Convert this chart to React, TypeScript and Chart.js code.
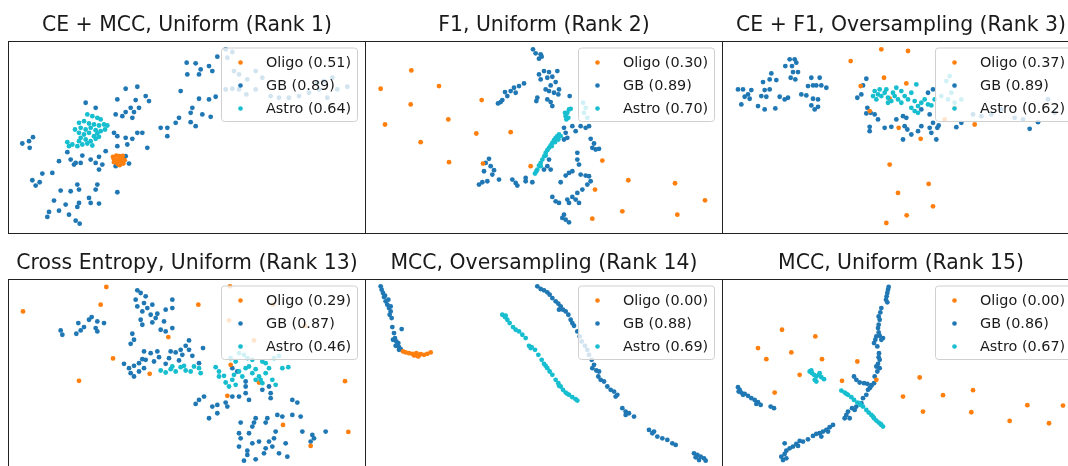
import React, { useEffect, useRef } from "react";
import { Chart, registerables } from "chart.js";

Chart.register(...registerables);

type P = [number, number];

// ---------- labels ----------
const CLASS_NAMES = ["Oligo", "GB", "Astro"];
const CLASS_COLORS = ["#ff7f0e", "#1f77b4", "#17becf"];

const PANEL_TITLES = [
  "CE + MCC, Uniform (Rank 1)",
  "F1, Uniform (Rank 2)",
  "CE + F1, Oversampling (Rank 3)",
  "Cross Entropy, Uniform (Rank 13)",
  "MCC, Oversampling (Rank 14)",
  "MCC, Uniform (Rank 15)",
];

const PANEL_SCORES = [
  ["0.51", "0.89", "0.64"],
  ["0.30", "0.89", "0.70"],
  ["0.37", "0.89", "0.62"],
  ["0.29", "0.87", "0.46"],
  ["0.00", "0.88", "0.69"],
  ["0.00", "0.86", "0.67"],
];

// embedding extent shown in every panel
const X_RANGE: P = [0, 107.1];
const Y_RANGE: P = [0, 57.5];

// ---------- panel 1 : CE + MCC, Uniform ----------
const p1Oligo: P[] = [
  [31.5, 22.8], [32.5, 23.2], [33.5, 23], [34.2, 22.3], [32, 21.8], [33, 22], [34, 21.5], [32.8, 21],
  [31.8, 21.2], [34.6, 20.8], [33.5, 20.3], [35, 21.8], [33, 20.6], [31.7, 22.2], [34.4, 23.1],
];
const p1GB: P[] = [
  [53.6, 51], [56.3, 50.8], [57.8, 49], [60.3, 50], [61.3, 48.5], [62.8, 52.8], [53.8, 47.5], [57.3, 47.5],
  [65.3, 55], [67.3, 54.2], [65.8, 52.5], [67.8, 48.5], [69.3, 47.5], [71.8, 46], [74.3, 48.5], [76.3, 46.5],
  [74.3, 43], [67.3, 43.2], [69.3, 43], [65.3, 43], [71.5, 41.5], [78.8, 41], [81.3, 40.5], [84.3, 40.5],
  [87.3, 41], [90.3, 42], [93.3, 43], [95.8, 40.5], [98.8, 43], [101.8, 43.8], [97.3, 46.5], [94.8, 45.5],
  [92.8, 45], [51.8, 42.5], [57.3, 40.2], [60.3, 40], [62.3, 40.8], [55.3, 37.5], [54.8, 36], [58.3, 35.5],
  [60.8, 34.8], [54.8, 33.2], [56.3, 32], [51.3, 34.5], [50.3, 33], [47.8, 31.5], [45.8, 31.5], [47.8, 29],
  [35.3, 43.2], [38.8, 43.8], [32.8, 40], [38.3, 39.8], [41.3, 41], [42.3, 39.5], [36.8, 37.5], [39.3, 37.5],
  [35.3, 36.2], [37.8, 36.2], [32.3, 35.5], [37.3, 34.5], [34.3, 35], [23.3, 39], [26.3, 37.5], [31.8, 30],
  [32.8, 29], [35.3, 28.5], [37.3, 28.2], [38.8, 30], [40.3, 30], [32.8, 26], [35.8, 26.5], [29.3, 24.5],
  [27.3, 22.8], [24.8, 22], [22.3, 23.2], [17.8, 24.2], [15.3, 21.5], [18.8, 22], [19.8, 20.5], [21.8, 21],
  [26.3, 21], [27.3, 19], [28.3, 20.5], [41.8, 25.5], [35.3, 23], [32.3, 20], [34.3, 21], [36.3, 20.8],
  [32.8, 12.2], [26.8, 14.5], [26.3, 13], [24.3, 10.5], [27.3, 8.8], [20.8, 14.5], [21.3, 13], [18.8, 12.5],
  [15.8, 12.7], [13.3, 18], [10.3, 17.8], [7.3, 15.8], [8.3, 14.2], [9.5, 15.2], [13.8, 9.7], [15.3, 6.7],
  [12.3, 6.3], [11.8, 4.8], [17.3, 8.5], [18.3, 5.5], [21.3, 9], [20.8, 7.8], [24.8, 9], [20.3, 3.7],
  [21.5, 2.8], [4.3, 26.8], [6.3, 27.5], [7.5, 28.7], [6.5, 25.5], [20.3, 21],
];
const p1Astro: P[] = [
  [23.8, 35.5], [25.3, 35], [26.8, 34.5], [27.8, 34], [21.3, 33], [22.8, 33.5], [24.3, 32.8], [25.8, 32.5],
  [27.3, 32.2], [28.8, 32.5], [29.8, 32.2], [21.8, 31.5], [23.3, 31], [24.8, 31.5], [26.3, 30.8], [27.8, 30.5],
  [21.3, 30], [22.8, 29.5], [24.3, 30], [25.8, 29], [27.3, 28.8], [21.8, 28.5], [23.3, 28], [24.8, 27.5],
  [26.3, 28.2], [17.8, 27.2], [19.3, 26.5], [20.8, 26], [22.3, 26.5], [18.3, 26], [23.8, 26.8], [25.3, 26.2],
  [21.3, 27.5], [20.1, 31], [29.1, 31], [26.8, 29.8],
];

// ---------- panel 2 : F1, Uniform ----------
const p2Oligo: P[] = [
  [13.9, 48.7], [4.7, 43.2], [22.2, 44], [13.7, 38.5], [35, 39.8], [6, 32.5], [25, 34], [16.7, 27.2],
  [33.4, 29.8], [43.7, 30.2], [25.2, 21.2], [35.4, 20.8], [49.7, 20], [71.2, 21.7], [79, 15.8], [93, 14.9],
  [102, 9.8], [69, 13], [77.2, 6.5], [68.2, 4.3], [93.7, 5.5],
];
const p2GB: P[] = [
  [50.4, 55], [51.2, 53.8], [52.7, 53.5], [52.2, 52.2], [53, 52.8], [52.2, 47.5], [53.7, 48.5], [55.2, 48.2],
  [57.7, 48.5], [52.7, 46], [54.7, 46.5], [56.2, 46.8], [57.2, 45.2], [55.7, 44.2], [58.2, 43], [56.7, 42],
  [55.2, 42.5], [58, 41.5], [54.7, 40], [55.7, 39.2], [56.2, 38], [51.7, 40.5], [51.4, 39.5], [61.4, 41],
  [54.2, 43], [39.9, 38.8], [41.2, 39.8], [42.7, 41], [42, 42.2], [43.7, 42.5], [44.7, 43.5], [46.2, 44],
  [47.7, 44.8], [45.2, 42], [40.7, 39.2], [59.7, 31.5], [60.2, 30], [60.7, 28.5], [59.7, 28], [62.2, 32],
  [63.2, 30.5], [64.7, 32], [66.2, 31.5], [67.2, 32], [67.7, 28.2], [68.7, 26.8], [69.2, 25], [70.2, 25.2],
  [68.2, 25.5], [37.2, 22.2], [36.2, 21], [37.7, 20], [38.7, 18.8], [38.2, 17.5], [35.7, 18.5], [36.7, 15.5],
  [34.2, 14.5], [35.2, 15.2], [40.2, 16], [44.2, 16], [45.2, 15], [45.7, 14.2], [48.2, 16.5], [48.2, 15.5],
  [50.2, 15.2], [55.2, 22], [54.7, 20], [53.7, 19], [55.7, 19], [63.7, 24], [63.7, 22], [64.2, 20.5],
  [62.2, 18.5], [60.2, 17.2], [58.7, 15.2], [61.2, 18], [64.7, 17.5], [66.2, 17.2], [67.2, 17], [67.7, 15.5],
  [66.7, 14.5], [65.2, 13], [63.7, 12], [62.2, 10.8], [60.7, 10], [56.2, 10.8], [57.2, 9.5], [58.2, 9],
  [61.2, 9], [63.2, 10], [64.2, 9], [59.7, 5.5], [60.2, 4], [61.2, 3.2], [59.2, 4.5],
];
const p2Astro: P[] = [
  [51, 17.8], [51.7, 19], [52.2, 20.2], [52.7, 21], [53.2, 22], [53.8, 23], [54.2, 24], [54.7, 24.8],
  [55.2, 25.5], [55.7, 26.2], [56.2, 27], [56.7, 27.8], [57.2, 28.5], [57.7, 29], [58.2, 29.5], [57, 27.2],
  [56, 26], [54.2, 23.2], [52.7, 20], [51.4, 18.5], [58, 28], [58.7, 29], [60.2, 35], [60.7, 36],
  [61.2, 37], [60, 36], [61, 34.5], [61.7, 37.2], [60.4, 34], [65.4, 39], [66.2, 37.5], [65.7, 36],
  [66.7, 34.5],
];

// ---------- panel 3 : CE + F1, Oversampling ----------
const p3Oligo: P[] = [
  [47.8, 55], [55.8, 54.5], [38.6, 51.5], [48.6, 46.5], [55.3, 44.8], [41.6, 44], [44.3, 36.5], [50.3, 40.2],
  [53, 31.5], [59.6, 28.2], [66.8, 34], [75.8, 32.5], [69.8, 37.5], [50.3, 20.5], [62, 14.7], [52.8, 12],
  [63.3, 8], [55.4, 5.3], [49.3, 3],
];
const p3GB: P[] = [
  [4.8, 43], [6.3, 43], [8.8, 42.8], [7.8, 41.5], [6.8, 40.8], [5.8, 38.5], [8.3, 40.2], [10.8, 38],
  [12.8, 37], [16, 37.3], [11.8, 41], [13.3, 40.8], [14.3, 43], [12.8, 42.8], [12.3, 45.2], [14.3, 46],
  [16.3, 45.8], [14.8, 47.8], [19, 50], [20.3, 52], [21.8, 52], [22.3, 51], [21, 50], [22.8, 48.2],
  [21.3, 48.2], [20.6, 46.5], [22, 46], [17.3, 40.8], [18.8, 40], [19.8, 40.5], [23.8, 41.5], [25.3, 41.2],
  [25.8, 44], [26.8, 46.5], [27.3, 44.2], [28.3, 44.2], [29.3, 46.5], [29.8, 44.2], [31.3, 43.5], [26.8, 38.2],
  [27.8, 37], [28.8, 37.8], [27.3, 40.2], [28.8, 40], [43.3, 46.2], [42.3, 44.2], [40.6, 40.5], [41.8, 41.5],
  [43.6, 37.5], [44.6, 36], [43.3, 35.8], [45.8, 35.5], [46.8, 34], [44.3, 31.8], [44.3, 30.5], [48.8, 31.5],
  [50.8, 31.8], [52.3, 34], [54.3, 35], [55.3, 34.5], [54.8, 32], [55.6, 31], [54.3, 28], [56.8, 29.5],
  [58.8, 30.5], [59.8, 32], [62.3, 35.5], [63.3, 33], [62.3, 31.5], [62.8, 30], [64.3, 28], [64.6, 31.5],
  [65, 32.2], [63.3, 43], [69.8, 44], [70.3, 31.7], [71.8, 33], [75.3, 35.5], [77.8, 35], [80.8, 35.5],
  [83.8, 37], [87.8, 34.5], [90.3, 34], [92.3, 31.2], [94.8, 33.2], [97.8, 40], [99.8, 36], [61.8, 42],
  [59.8, 37],
];
const p3Astro: P[] = [
  [45.8, 42.5], [46.8, 41.5], [47.8, 41], [46.3, 40], [48.8, 42], [49.8, 40.5], [49.3, 43], [50.8, 39.5],
  [51.8, 41], [52.8, 40], [52.3, 43.5], [53.8, 39], [54.8, 41], [55.8, 40], [56.8, 42], [57.8, 39.5],
  [58.3, 44.5], [58.8, 38], [59.8, 39], [60.8, 40], [61.8, 38.5], [62.8, 38.2], [57.8, 36.5], [58.8, 36],
  [56.8, 37.5], [53.8, 42.5], [51.3, 42], [47.3, 43], [45.3, 41], [49.8, 39], [63.8, 40], [65.8, 41],
  [67.8, 40], [68.8, 42], [69.8, 39], [67.3, 45.5], [68.3, 47], [71.8, 40],
];

// ---------- panel 4 : Cross Entropy, Uniform ----------
const p4Oligo: P[] = [
  [4.5, 47.8], [29.5, 55.1], [27.8, 49.8], [57.1, 49.8], [66.6, 55.3], [66.3, 45.1], [48.1, 40.1], [31.5, 33.7],
  [21.3, 27], [42.5, 29.1], [66.8, 31.8], [75.3, 26.5], [65.8, 22.5], [79.5, 49.8], [89.1, 43.5], [73.8, 39.1],
  [101.1, 26.9], [82.5, 13.8], [90.8, 7.5], [102.1, 11.7],
];
const p4GB: P[] = [
  [15.8, 42.1], [16.3, 40.8], [20.5, 41.1], [21.1, 44.3], [21.8, 42.1], [22.8, 43.1], [24.3, 45.3], [25.1, 46.1],
  [26.8, 44.8], [26.3, 42.8], [28.8, 44.3], [26.8, 41.8], [38.8, 54.1], [39.8, 53.3], [41.3, 52.3], [38.3, 51.3],
  [40.8, 50.3], [38.8, 49.3], [41.8, 48.8], [43.3, 49.8], [40.3, 47.8], [42.8, 46.8], [44.3, 45.8], [47.3, 48.3],
  [46.8, 44.8], [49.3, 51.3], [49.3, 48.8], [45.8, 42.3], [47.3, 41.8], [49.3, 42.8], [39.8, 45.3], [40.3, 43.8],
  [37.3, 41.1], [37.8, 39.3], [36.8, 38.1], [44.8, 47.1], [43.3, 44.5], [40.8, 35.8], [42.8, 35.3], [44.8, 35.8],
  [40.3, 33.5], [43.8, 32.8], [45.3, 34.1], [47.3, 32.1], [48.3, 33.8], [48.8, 35.8], [50.3, 35.5], [51.3, 33.1],
  [52.3, 34.8], [51.8, 36.3], [54.3, 39.1], [53.3, 37.5], [54.3, 36.3], [55.3, 34.5], [58.5, 36.8], [57.3, 32.3],
  [34.8, 32.1], [36.3, 30.8], [37.8, 31.5], [36.8, 29.3], [37.8, 28.3], [39.3, 29.8], [40.8, 30.8], [41.3, 33.3],
  [39.3, 32.3], [67.3, 30.8], [68.8, 29.8], [71.3, 26.8], [71.3, 25.3], [69.3, 22.3], [72.3, 21.3], [71.3, 23.3],
  [67.3, 22.3], [65.3, 20.5], [65.8, 19.3], [62.8, 19.8], [61.3, 19.3], [60.3, 15.8], [62.8, 17.3], [57.3, 21.3],
  [56.3, 20.1], [58.8, 22.3], [78.3, 25.3], [78.8, 23.3], [78.8, 21.8], [76.3, 24.3], [85.3, 21.3], [86.8, 20.5],
  [85.3, 16.8], [87.8, 16.3], [69.8, 14.5], [73.8, 14.5], [73.3, 13.3], [74.3, 15.8], [77.3, 14.5], [77.8, 15.8],
  [80.8, 16.8], [82.3, 16.3], [80.3, 11.8], [72.3, 11.3], [69.3, 11.3], [69.8, 9.8], [73.3, 8.3], [75.3, 8.8],
  [78.3, 8.8], [79.8, 9.8], [79.3, 7.3], [77.3, 6.8], [71.8, 6.1], [71.8, 4.8], [74.3, 3.5], [70.8, 3.1],
  [81.3, 5.3], [83.3, 8.3], [83.8, 4.3], [88.3, 11.8], [91.3, 10.8], [91.8, 9.8], [90.8, 8.8], [95.3, 11.8],
  [69.3, 7.3], [76.8, 5.3],
];
const p4Astro: P[] = [
  [45.8, 30.1], [47.3, 29.5], [48.8, 30.5], [50.3, 29.8], [51.8, 31.1], [52.8, 31.5], [53.3, 30.1], [54.8, 29.8],
  [55.8, 31.3], [57.3, 30.8], [57.8, 29.3], [49.3, 31.3], [62.3, 31.1], [63.3, 29.8], [64.8, 28.5], [65.3, 26.5],
  [66.3, 25.3], [67.3, 27.3], [68.3, 25.8], [67.8, 28.8], [69.3, 29.8], [70.3, 28.3], [72.3, 31.3], [73.3, 29.3],
  [74.3, 27.3], [75.3, 28.3], [76.3, 26.3], [77.3, 29.3], [78.3, 30.8], [79.3, 27.3], [80.3, 25.8], [77.3, 32.3],
  [79.8, 33.8], [81.3, 34.5], [82.3, 30.8], [84.1, 31.1], [76.3, 32.8], [73.3, 33.3], [71.3, 30.8], [69.3, 35.3],
  [70.8, 34.8], [71.8, 33.8], [66.8, 33.8], [68.3, 32.8], [69.8, 37.3], [74.3, 30.5], [75.8, 27.3], [63.3, 28.3],
];

// ---------- panel 5 : MCC, Oversampling ----------
const p5Oligo: P[] = [
  [11.4, 35.8], [12.2, 35.5], [13.2, 35.3], [14.2, 35.1], [15, 34.8], [15.7, 34.5], [16.2, 34.8], [15.4, 35.3],
  [16.7, 35], [17.7, 34.8], [18.7, 35.1], [19.7, 35.5], [16, 34.3], [14.7, 34.6],
];
const p5GB: P[] = [
  [4.7, 55.3], [5, 54.3], [5.4, 53.3], [5.7, 52.1], [6.2, 50.8], [6.7, 49.8], [7.2, 48.8], [7.7, 47.8],
  [7.4, 46.8], [8, 45.8], [8.2, 43.1], [8.7, 41.3], [9, 39.8], [9.4, 38.8], [9.7, 37.8], [10.2, 37.1],
  [10.7, 36.5], [9.2, 37.5], [10, 38.3], [11, 42.5], [7, 51.3], [6, 52.5], [7.7, 49.3], [8.4, 39.3],
  [10.2, 36.3], [51.7, 55.3], [52.7, 54.5], [53.7, 54.1], [54.7, 53.5], [55.4, 52.8], [56.2, 51.8], [57.2, 50.8],
  [58, 50.1], [58.7, 49.3], [59.4, 48.3], [60.2, 47.8], [61, 46.8], [61.7, 45.3], [62.7, 43.5], [63.7, 41.8],
  [64.4, 40.3], [65, 38.8], [66, 37.5], [66.7, 36.3], [67.2, 34.8], [68, 33.3], [68.7, 31.8], [69.4, 30.1],
  [70, 28.3], [70.7, 27.3], [71.7, 26.8], [72.7, 25.3], [73.7, 24.3], [74.7, 23.8], [75.7, 22.8], [77.2, 18.8],
  [78.2, 17.8], [79.2, 17.3], [80.7, 16.3], [85.2, 12.3], [86.2, 11.3], [87.7, 10.3], [89.2, 9.8], [90.7, 9.3],
  [92.2, 8.3], [93.2, 7.8], [98.7, 5.3], [99.7, 4.8], [100.7, 4.3], [101.7, 3.8], [102.2, 3.1], [100.2, 3.3],
  [58.2, 48.3], [62.2, 44.3], [68.2, 30.8], [70.2, 29.8], [75.2, 22.3], [78.2, 16.8], [86.7, 11.8], [99.2, 4.1],
];
const p5Astro: P[] = [
  [41.2, 46.8], [42, 46.1], [42.7, 45.3], [43.4, 44.3], [44.4, 43.1], [45.2, 42.3], [46.2, 41.8], [47.2, 40.8],
  [48.2, 39.8], [49.2, 37.5], [50, 37.1], [51, 36.3], [52, 34.8], [53, 33.3], [53.7, 32.1], [54.7, 30.8],
  [55.4, 29.8], [56.2, 28.8], [57.2, 27.3], [58, 26.3], [58.7, 25.3], [59.4, 24.3], [60.2, 23.5], [61.2, 22.8],
  [62.2, 22.1], [63.2, 21.5], [63.7, 21.1], [42.2, 46.5], [49.7, 36.8], [54.2, 31.5], [58.2, 25.5], [60.7, 23.1],
];

// ---------- panel 6 : MCC, Uniform ----------
const p6Oligo: P[] = [
  [18, 42.3], [28, 40.3], [10.8, 36.8], [20.8, 35.5], [30, 33.5], [40.6, 32.8], [13.3, 33.5], [23.3, 28.8],
  [36, 27], [46.3, 27.3], [59.3, 28], [15.8, 23.5], [54.3, 22.3], [66.3, 22.7], [75.3, 24.2], [60.3, 17.8],
  [74.8, 17.6], [91.6, 19.7], [102.3, 19.6], [86.3, 15], [98.1, 14.3],
];
const p6GB: P[] = [
  [50, 55.1], [49.8, 54.3], [49.6, 53.3], [49.4, 52.3], [49.2, 51.3], [49.6, 50.5], [47.8, 48.8], [47.5, 47.5],
  [47, 46.3], [47.3, 45.3], [47, 43.8], [46.8, 42.8], [47, 41.5], [46.3, 40.3], [46, 39.3], [47.3, 40.5],
  [48.3, 39.8], [45.6, 38.3], [46.6, 37.3], [47.8, 39.3], [47.1, 35.3], [47, 34.1], [47.3, 33.3], [46.8, 32.1],
  [46.3, 31.3], [47.3, 30.8], [46.6, 29.8], [45.8, 28.3], [45.6, 26.3], [44.8, 25.5], [44.3, 24.8], [43.8, 24.3],
  [4.8, 25.1], [5.3, 24.3], [5.8, 23.5], [6.8, 23.1], [7.8, 22.5], [8.8, 21.8], [9.8, 21.3], [10.8, 20.6],
  [11.6, 19.8], [10.3, 20.1], [14.6, 19.3], [15.6, 18.8], [5, 23.8], [6.3, 22.8], [39.6, 28.3], [40.3, 27.3],
  [41.3, 26.5], [42.6, 26.3], [43.6, 26.1], [44.8, 25.7], [43.3, 22.8], [42.3, 21.8], [41.8, 20.3], [40.3, 19.3],
  [39, 18.8], [37.8, 17.8], [37.3, 16.8], [36.8, 15.8], [38.3, 15.8], [39.8, 18.3], [33.3, 13.8], [32.3, 13.1],
  [31.3, 12.3], [30.3, 11.8], [29.3, 11.3], [28.3, 11.1], [27.3, 10.5], [25.8, 9.5], [24.3, 8.8], [23.3, 9],
  [22.3, 8.1], [21.3, 7.3], [20.3, 6.8], [19.3, 6.1], [18.8, 5.1], [17.8, 4.3], [18.3, 3.3], [19.3, 3.8],
  [18.8, 8.3], [31.8, 11.8], [29.8, 10.3], [22.8, 7.5],
];
const p6Astro: P[] = [
  [26.3, 29.8], [27, 29.3], [27.6, 28.8], [28.3, 28.3], [29, 28.8], [29.8, 28.1], [30.6, 27.5], [27.8, 27.3],
  [28.3, 26.8], [26.8, 30.1], [29.3, 29.3], [35.8, 24.1], [36.8, 23.5], [37.8, 22.8], [38.8, 22.1], [39.6, 21.3],
  [40.6, 20.5], [41.6, 19.8], [42.3, 19.3], [43.3, 18.3], [44, 17.5], [44.8, 16.8], [45.6, 15.8], [46.3, 15.1],
  [47, 14.5], [47.8, 13.8], [48.3, 13.3], [37.3, 23.1], [41.3, 20.3], [45.3, 16.3], [47.6, 14.1],
];

const PANEL_DATA: P[][][] = [
  [p1Oligo, p1GB, p1Astro],
  [p2Oligo, p2GB, p2Astro],
  [p3Oligo, p3GB, p3Astro],
  [p4Oligo, p4GB, p4Astro],
  [p5Oligo, p5GB, p5Astro],
  [p6Oligo, p6GB, p6Astro],
];

// ---------- layout ----------
const COL_LEFT = [8, 365, 722];
const ROW_TOP = [41, 279];
const AREA_W = 357;
const AREA_H = 192;
const PAD_L = 2;
const PAD_R = 3;
const PAD_T = 42;
const PAD_B = 3;
const FONT = '"DejaVu Sans", "Liberation Sans", sans-serif';

const panelPlugin = {
  id: "panelDecor",
  afterDatasetsDraw(chart: any, _args: any, opts: any) {
    const ctx = chart.ctx as CanvasRenderingContext2D;
    const ca = chart.chartArea;
    ctx.save();
    // frame
    ctx.strokeStyle = "#222";
    ctx.lineWidth = 1;
    ctx.strokeRect(Math.round(ca.left) + 0.5, Math.round(ca.top) + 0.5, AREA_W, AREA_H);
    // title
    ctx.fillStyle = "#1a1a1a";
    ctx.font = `20.4px ${FONT}`;
    ctx.textAlign = "center";
    ctx.textBaseline = "alphabetic";
    ctx.fillText(opts.title, (ca.left + ca.right) / 2 + 0.5, ca.top - 10.5);
    // legend
    const bw = 136;
    const bh = 73.5;
    const bx = ca.right - 8 - bw;
    const by = ca.top + 6.5;
    ctx.beginPath();
    (ctx as any).roundRect(bx + 0.5, by + 0.5, bw, bh, 3);
    ctx.fillStyle = "rgba(255,255,255,0.8)";
    ctx.fill();
    ctx.strokeStyle = "#d0d0d0";
    ctx.lineWidth = 1;
    ctx.stroke();
    ctx.font = `14.4px ${FONT}`;
    ctx.textAlign = "left";
    chart.data.datasets.forEach((ds: any, i: number) => {
      const ry = by + 15 + i * 23;
      ctx.beginPath();
      ctx.arc(bx + 19.5, ry, 2.3, 0, Math.PI * 2);
      ctx.fillStyle = ds.backgroundColor;
      ctx.fill();
      ctx.fillStyle = "#1a1a1a";
      ctx.fillText(ds.label, bx + 45, ry + 4.8);
    });
    ctx.restore();
  },
};

function Panel({ index }: { index: number }) {
  const ref = useRef<HTMLCanvasElement | null>(null);
  const col = index % 3;
  const row = Math.floor(index / 3);
  const w = PAD_L + AREA_W + PAD_R;
  const h = PAD_T + AREA_H + PAD_B;

  useEffect(() => {
    if (!ref.current) return;
    const series = PANEL_DATA[index];
    const datasets = CLASS_NAMES.map((name, k) => ({
      label: `${name} (${PANEL_SCORES[index][k]})`,
      data: series[k].map(([x, y]) => ({ x, y })),
      backgroundColor: CLASS_COLORS[k],
      borderWidth: 0,
      pointRadius: 2.4,
      pointHoverRadius: 2.4,
      order: k === 2 ? 0 : k === 0 ? 1 : 2,
    }));
    const chart = new Chart(ref.current, {
      type: "scatter",
      data: { datasets },
      options: {
        responsive: false,
        animation: false,
        devicePixelRatio: 1,
        events: [],
        layout: {
          autoPadding: false,
          padding: { left: PAD_L, right: PAD_R, top: PAD_T, bottom: PAD_B },
        },
        scales: {
          x: { type: "linear", min: X_RANGE[0], max: X_RANGE[1], display: false },
          y: { type: "linear", min: Y_RANGE[0], max: Y_RANGE[1], display: false },
        },
        plugins: {
          legend: { display: false },
          tooltip: { enabled: false },
          title: { display: false },
          panelDecor: { title: PANEL_TITLES[index] },
        } as any,
      },
      plugins: [panelPlugin],
    });
    return () => chart.destroy();
  }, [index]);

  return (
    <canvas
      ref={ref}
      width={w}
      height={h}
      style={{
        position: "absolute",
        left: COL_LEFT[col] - PAD_L,
        top: ROW_TOP[row] - PAD_T,
        width: w,
        height: h,
      }}
    />
  );
}

export default function App() {
  return (
    <div
      style={{
        position: "fixed",
        left: 0,
        top: 0,
        width: 1068,
        height: 466,
        overflow: "hidden",
        background: "#fff",
      }}
    >
      {[0, 1, 2, 3, 4, 5].map((i) => (
        <Panel key={i} index={i} />
      ))}
    </div>
  );
}
